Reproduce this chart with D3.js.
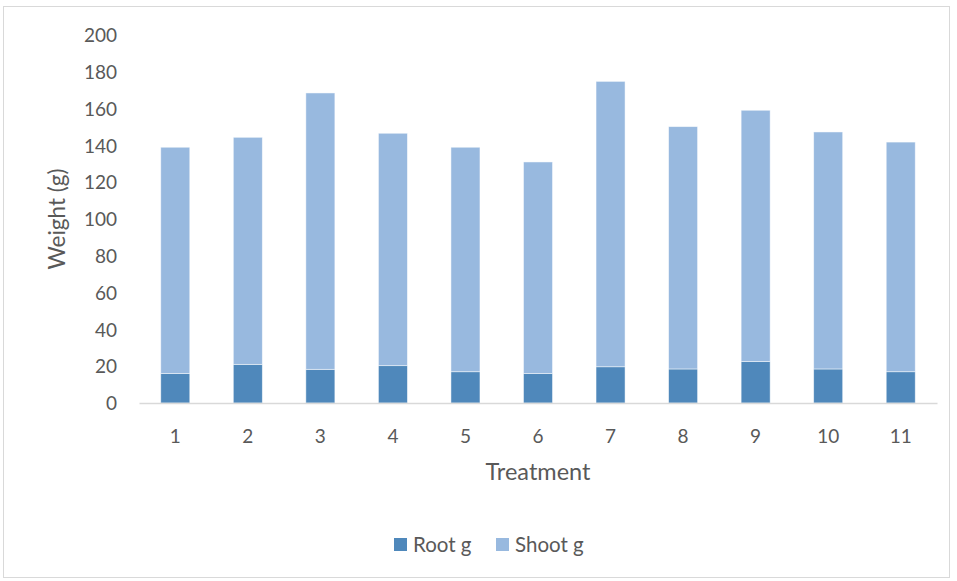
<!DOCTYPE html>
<html><head><meta charset="utf-8">
<script src="https://cdn.jsdelivr.net/npm/d3@7"></script>
<style>body{margin:0;background:#fff}svg{display:block}text{font-family:Lato,"Open Sans",sans-serif;fill:#595959}</style>
</head><body><svg id="c" width="957" height="581"></svg>
<script>
const categories = ["1","2","3","4","5","6","7","8","9","10","11"];
const rootG = [16, 21, 18.3, 20.3, 17, 16, 19.7, 18.5, 22.5, 18.5, 17];
const shootG = [123, 123.4, 150.2, 126.3, 122, 115, 155.1, 131.7, 136.6, 128.8, 124.8];
const yTicks = [0,20,40,60,80,100,120,140,160,180,200];
const seriesNames = ["Root g","Shoot g"];
const colors = ["#4f88bb","#98b9df"];

const svg = d3.select("#c");
svg.append("rect").attr("x",3.5).attr("y",6.5).attr("width",946).attr("height",571)
  .attr("fill","#fff").attr("stroke","#d9d9d9");

const x = d3.scaleBand().domain(categories).range([139,937]).paddingInner(0.6).paddingOuter(0.3);
const y = d3.scaleLinear().domain([0,200]).range([403,35]);

const data = categories.map((c,i)=>({c, root:rootG[i], shoot:shootG[i]}));
const stack = d3.stack().keys(["root","shoot"])(data);

const yAxis = svg.append("g").attr("transform","translate(117,0)")
  .call(d3.axisLeft(y).tickValues(yTicks).tickSize(0).tickPadding(0));
yAxis.select(".domain").remove();
yAxis.selectAll("text").style("font-size","19px").attr("fill","#595959").attr("dy","0.35em");

stack.forEach((s,k)=>{
  svg.append("g").selectAll("rect").data(s).enter().append("rect")
    .attr("x",d=>x(d.data.c)).attr("width",x.bandwidth())
    .attr("y",d=>y(d[1])).attr("height",d=>y(d[0])-y(d[1]))
    .attr("fill",colors[k]).attr("stroke","#fff").attr("stroke-width",0.8).attr("stroke-opacity",0.6);
});

const xAxis = svg.append("g").attr("transform","translate(0,403)")
  .call(d3.axisBottom(x).tickSize(0).tickPadding(27));
xAxis.select(".domain").attr("stroke","#d9d9d9").attr("stroke-width",1.5);
xAxis.selectAll("text").style("font-size","19px").attr("fill","#595959");

svg.append("text").attr("x",538).attr("y",480).attr("text-anchor","middle")
  .style("font-size","23.5px").text("Treatment");
svg.append("text").attr("transform","translate(65,219) rotate(-90)").attr("text-anchor","middle")
  .style("font-size","22.5px").text("Weight (g)");

const lx = [394, 496];
seriesNames.forEach((n,i)=>{
  svg.append("rect").attr("x",lx[i]).attr("y",538).attr("width",13).attr("height",13).attr("fill",colors[i]);
  svg.append("text").attr("x",lx[i]+19).attr("y",552).style("font-size","20.5px").text(n);
});
</script></body></html>
